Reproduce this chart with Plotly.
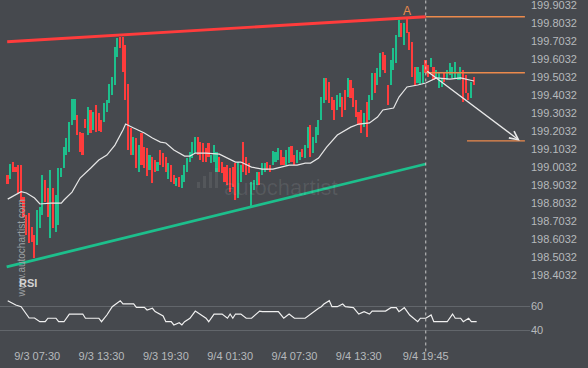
import pandas as pd
import plotly.graph_objects as go

# ---------------- data ----------------
first_bar = -11          # bar index of first candle (bar 0 = 9/3 07:30, 15-minute bars)
opens = [
    198.959, 198.937, 199.031, 199.003, 199.014, 199.014, 198.837, 198.737, 198.748, 198.670, 198.625,
    198.570, 198.664, 198.737, 198.931, 198.887, 198.609, 198.887, 198.642, 198.681, 198.948,
    198.998, 199.070, 199.087, 199.237, 199.264, 199.292, 199.198, 199.192, 199.270, 199.181,
    199.320, 199.209, 199.348, 199.303, 199.264, 199.253, 199.309, 199.359, 199.403, 199.459,
    199.614, 199.725, 199.725, 199.681, 199.464, 199.220, 199.070, 199.164, 198.975, 199.192,
    199.114, 199.109, 198.987, 199.059, 199.042, 198.981, 199.098, 199.081, 199.059, 198.937,
    199.014, 198.959, 198.898, 198.948, 198.887, 198.920, 198.975, 199.031, 199.053, 199.081,
    199.170, 199.142, 199.137, 199.109, 199.137, 199.025, 199.031, 198.975, 199.059, 199.031,
    199.003, 199.014, 198.998, 199.003, 199.025, 198.831, 198.920, 199.142, 199.059, 199.025,
    198.781, 198.875, 198.903, 198.975, 198.959, 198.975, 199.031, 199.014, 199.014, 199.031,
    199.042, 199.098, 199.059, 199.014, 199.025, 199.120, 199.070, 199.025, 199.042, 199.103,
    199.053, 199.109, 199.237, 199.081, 199.137, 199.181, 199.264, 199.359, 199.498, 199.475,
    199.392, 199.375, 199.320, 199.337, 199.392, 199.431, 199.392, 199.487, 199.442, 199.375,
    199.309, 199.320, 199.225, 199.364, 199.264, 199.375, 199.525, 199.459, 199.503, 199.642,
    199.625, 199.459, 199.459, 199.542, 199.581, 199.725, 199.803, 199.681, 199.837, 199.753,
    199.698, 199.559, 199.470, 199.459, 199.470, 199.598, 199.570, 199.559, 199.559, 199.498,
    199.442, 199.448, 199.525, 199.487, 199.514, 199.498, 199.498, 199.487, 199.487, 199.542,
    199.514, 199.414, 199.387, 199.503,
]
closes = [
    198.909, 199.020, 198.975, 198.975, 198.859, 198.809, 198.725, 198.625, 198.581, 198.587, 198.498,
    198.764, 198.781, 198.959, 198.809, 198.725, 198.987, 198.664, 198.848, 198.998, 198.998,
    199.114, 199.164, 199.253, 199.381, 199.381, 199.181, 199.087, 199.070, 199.220, 199.337,
    199.192, 199.309, 199.198, 199.203, 199.198, 199.359, 199.375, 199.464, 199.503, 199.670,
    199.720, 199.664, 199.531, 199.375, 199.098, 199.070, 199.170, 198.998, 199.125, 199.014,
    198.998, 198.953, 199.070, 198.914, 198.975, 199.031, 199.014, 199.003, 198.975, 199.025,
    198.920, 198.909, 198.942, 198.892, 198.959, 199.014, 199.053, 199.087, 199.142, 199.170,
    199.070, 199.042, 199.031, 199.031, 199.059, 199.070, 199.125, 199.087, 198.975, 198.970,
    198.920, 198.903, 198.864, 198.892, 198.820, 199.031, 199.014, 198.975, 198.959, 198.970,
    198.920, 198.931, 198.975, 198.903, 199.025, 199.025, 198.987, 198.975, 199.092, 199.087,
    199.109, 199.014, 199.014, 199.098, 199.114, 199.031, 199.014, 199.098, 199.087, 199.059,
    199.125, 199.225, 199.059, 199.170, 199.225, 199.264, 199.392, 199.498, 199.375, 199.359,
    199.320, 199.264, 199.403, 199.414, 199.281, 199.320, 199.498, 199.387, 199.337, 199.281,
    199.237, 199.192, 199.303, 199.170, 199.403, 199.525, 199.414, 199.553, 199.637, 199.542,
    199.525, 199.348, 199.598, 199.664, 199.737, 199.820, 199.725, 199.803, 199.748, 199.653,
    199.503, 199.459, 199.559, 199.531, 199.570, 199.525, 199.503, 199.609, 199.487, 199.542,
    199.525, 199.498, 199.475, 199.542, 199.581, 199.559, 199.587, 199.531, 199.559, 199.364,
    199.414, 199.375, 199.475, 199.459,
]

ma_bars = [-11, -8, -6, -4, -1, 1, 5, 9, 10, 13, 16, 20, 23, 26, 29, 32, 33, 36, 40, 43,
           46, 48, 51, 55, 57, 59, 63, 68, 71, 74, 76, 80, 84, 88, 91, 94, 97, 100, 102, 105,
           108, 112, 117, 120, 124, 127, 129, 133, 135, 138, 142, 145, 149, 154, 158, 161, 163]
ma_values = [198.825, 198.848, 198.866, 198.859, 198.831, 198.798, 198.803, 198.803, 198.820, 198.864,
             198.942, 198.998, 199.042, 199.070, 199.125, 199.209, 199.242, 199.220, 199.192, 199.164,
             199.142, 199.137, 199.098, 199.064, 199.064, 199.081, 199.081, 199.075, 199.053, 199.031,
             199.031, 199.003, 198.992, 198.992, 199.003, 199.014, 199.014, 199.025, 199.025, 199.053,
             199.114, 199.181, 199.225, 199.242, 199.248, 199.281, 199.320, 199.331, 199.392, 199.448,
             199.459, 199.470, 199.498, 199.492, 199.498, 199.487, 199.481]

rsi_bars = [-11, -8, -6, -3, -1, 1, 3, 4, 7, 8, 10, 12, 17, 18, 23, 24, 26, 28, 31, 32,
            36, 37, 40, 41, 43, 44, 47, 48, 50, 51, 53, 54, 55, 57, 59, 60, 61, 63, 64, 66,
            69, 71, 72, 73, 74, 76, 78, 80, 83, 84, 90, 92, 94, 96, 100, 102, 105, 106, 107, 109,
            110, 112, 114, 115, 118, 120, 122, 124, 125, 130, 132, 134, 135, 137, 139, 142, 143, 145, 147, 148,
            153, 155, 156, 158, 159, 161, 162, 164]
rsi_values = [64.4, 60.8, 59.4, 50.0, 50.0, 46.9, 46.9, 49.8, 49.8, 46.9, 46.9, 53.3, 53.3, 49.8, 49.8, 46.9, 52.5, 59.4, 64.4, 61.7,
              61.7, 58.9, 58.9, 56.7, 58.1, 55.3, 51.7, 46.9, 46.9, 44.2, 46.1, 44.2, 46.9, 49.8, 55.8, 54.4, 53.3, 49.8, 46.9, 53.3,
              53.3, 49.8, 53.3, 49.8, 53.3, 53.3, 49.8, 49.8, 55.8, 55.3, 55.3, 49.8, 53.3, 49.8, 49.8, 53.3, 58.1, 59.4, 61.7, 64.4,
              59.4, 59.4, 61.7, 59.4, 58.6, 53.3, 55.3, 53.3, 55.8, 55.8, 58.6, 58.6, 55.3, 58.6, 52.5, 46.9, 49.8, 49.8, 52.5, 46.9,
              46.9, 53.3, 49.8, 49.8, 46.9, 49.8, 46.9, 46.9]

resistance_bars = [-11.2, 145]
resistance_prices = [199.699, 199.838]
support_bars = [-11.4, 145]
support_prices = [198.449, 199.020]
level_bars = [[145, 182.0], [145, 182.0], [160.4, 182.0]]
level_prices = [199.838, 199.527, 199.148]
arrow_bars = [145, 180.1]
arrow_prices = [199.542, 199.149]
pattern_point_bar = 138
pattern_point_price = 199.872
signal_bar = 145

price_ticks = [198.4032, 198.5032, 198.6032, 198.7032, 198.8032, 198.9032, 199.0032, 199.1032,
               199.2032, 199.3032, 199.4032, 199.5032, 199.6032, 199.7032, 199.8032, 199.9032]
rsi_ticks = [40, 60]
time_tick_bars = [0, 24, 48, 72, 96, 120, 145]
time_tick_labels = ["9/3 07:30", "9/3 13:30", "9/3 19:30", "9/4 01:30", "9/4 07:30", "9/4 13:30", "9/4 19:45"]

# ---------------- helpers ----------------
T0 = pd.Timestamp("2020-09-03 07:30")
BAR_MS = 15 * 60 * 1000


def bt(i):
    return T0 + pd.Timedelta(minutes=15 * i)


BG = "#46494e"
GREEN = "#1dbf8c"
RED = "#ff3c3c"
ORANGE = "#ec8a4c"
TICK = "#b6b9bc"

times = [bt(first_bar + k) for k in range(len(opens))]
highs = [max(o, c) for o, c in zip(opens, closes)]
lows = [min(o, c) for o, c in zip(opens, closes)]
colors = [GREEN if c >= o else RED for o, c in zip(opens, closes)]

fig = go.Figure()

# candles drawn as thin floating bars (low -> high)
fig.add_trace(go.Bar(
    x=times, y=[h - l for h, l in zip(highs, lows)], base=lows,
    width=[BAR_MS * 0.6] * len(times),
    marker=dict(color=colors, line=dict(width=0)),
    showlegend=False, hoverinfo="skip", xaxis="x", yaxis="y"))

fig.add_trace(go.Scatter(x=[bt(i) for i in ma_bars], y=ma_values, mode="lines",
                         line=dict(color="#e6e6e6", width=1.2), showlegend=False,
                         hoverinfo="skip", xaxis="x", yaxis="y"))

fig.add_trace(go.Scatter(x=[bt(i) for i in resistance_bars], y=resistance_prices, mode="lines",
                         line=dict(color=RED, width=2.8), showlegend=False, hoverinfo="skip",
                         xaxis="x", yaxis="y"))
fig.add_trace(go.Scatter(x=[bt(i) for i in support_bars], y=support_prices, mode="lines",
                         line=dict(color=GREEN, width=2.8), showlegend=False, hoverinfo="skip",
                         xaxis="x", yaxis="y"))

for bars, p in zip(level_bars, level_prices):
    fig.add_trace(go.Scatter(x=[bt(i) for i in bars], y=[p, p], mode="lines",
                             line=dict(color=ORANGE, width=1.3), showlegend=False,
                             hoverinfo="skip", xaxis="x", yaxis="y"))

fig.add_trace(go.Scatter(x=[bt(i) for i in rsi_bars], y=rsi_values, mode="lines",
                         line=dict(color="#f0f0f0", width=1.2), showlegend=False,
                         hoverinfo="skip", xaxis="x", yaxis="y2"))

fig.add_annotation(x=bt(arrow_bars[1]), y=arrow_prices[1], ax=bt(arrow_bars[0]), ay=arrow_prices[0],
                   xref="x", yref="y", axref="x", ayref="y", showarrow=True,
                   arrowhead=5, arrowsize=1.3, arrowwidth=1.3, arrowcolor="#e8e8e8", text="")

fig.add_annotation(x=bt(pattern_point_bar), y=pattern_point_price, xref="x", yref="y",
                   text="A", showarrow=False, font=dict(color=ORANGE, size=12, family="Liberation Sans"))

fig.add_shape(type="line", xref="x", yref="paper", x0=bt(signal_bar), x1=bt(signal_bar),
              y0=-0.01, y1=1, line=dict(color="#c8c8c8", width=1, dash="3px,3px"))

# watermark
fig.add_annotation(xref="paper", yref="paper", x=0.53, y=1 - 187 / 348, text="autochartist",
                   showarrow=False, font=dict(color="rgba(255,255,255,0.09)", size=22,
                                               family="Liberation Sans"))
for k, h in enumerate([6, 12, 16, 20]):
    x0 = (197 + k * 6) / 530
    fig.add_shape(type="rect", xref="paper", yref="paper", x0=x0, x1=x0 + 3 / 530,
                  y0=1 - 188 / 348, y1=1 - (188 - h) / 348,
                  fillcolor="rgba(255,255,255,0.08)", line=dict(width=0))

fig.add_annotation(xref="paper", yref="paper", x=13 / 530, y=1 - 300 / 348, text="www.autochartist.com",
                   textangle=-90, showarrow=False,
                   font=dict(color="#9ea1a4", size=10, family="Liberation Sans"))
fig.add_annotation(xref="paper", yref="paper", x=17 / 530, y=1 - 291 / 348, text="<b>RSI</b>",
                   xanchor="left", showarrow=False,
                   font=dict(color="#d2d2d2", size=11, family="Liberation Sans"))

fig.update_layout(
    width=588, height=368,
    margin=dict(l=0, r=58, t=0, b=20),
    paper_bgcolor=BG, plot_bgcolor=BG,
    showlegend=False, bargap=0,
    font=dict(family="Liberation Sans", color=TICK, size=11),
    xaxis=dict(type="date", anchor="y2",
               range=[bt(-13.88), bt(183.9)],
               showgrid=False, zeroline=False, showline=False, ticks="",
               tickvals=[bt(i) for i in time_tick_bars], ticktext=time_tick_labels,
               tickfont=dict(color=TICK, size=11)),
    yaxis=dict(domain=[1 - 285 / 348, 1], range=[198.348, 199.931], side="right",
               showgrid=False, zeroline=False, showline=False, ticks="",
               ticklabeloverflow="allow",
               tickvals=price_ticks, ticktext=[f"{v:.4f}" for v in price_ticks],
               tickfont=dict(color=TICK, size=11)),
    yaxis2=dict(domain=[0, 60 / 348], range=[25, 75], side="right", anchor="x",
                showgrid=True, gridcolor="#62666b", gridwidth=1, zeroline=False, showline=False,
                ticks="", tickvals=rsi_ticks, ticktext=[str(v) for v in rsi_ticks],
                tickfont=dict(color=TICK, size=11)),
)

fig.write_html("out.html", config={"displayModeBar": False},
               post_script="document.body.style.margin='0';document.body.style.overflow='hidden';")
